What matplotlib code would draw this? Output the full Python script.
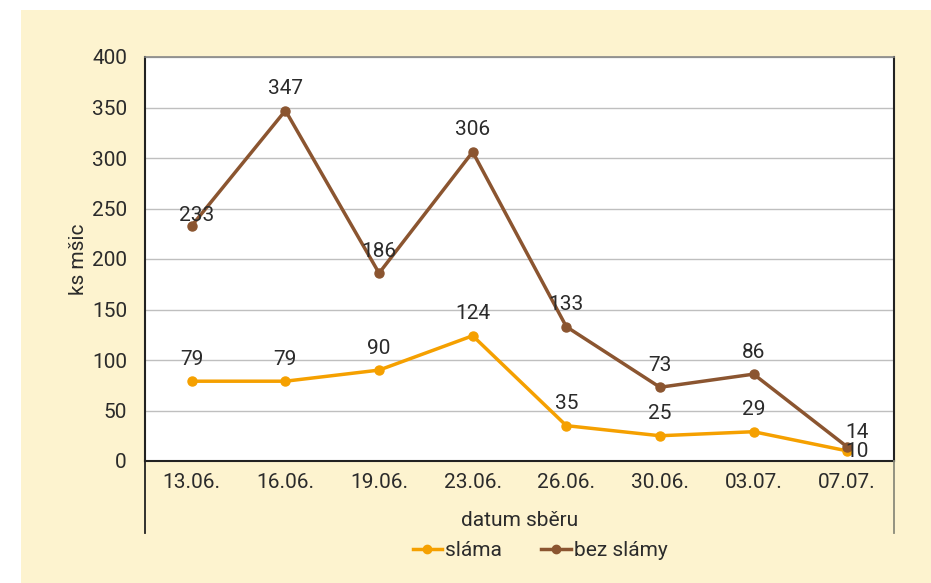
import matplotlib
matplotlib.use("Agg")
import matplotlib.pyplot as plt
from matplotlib.lines import Line2D

plt.rcParams['font.family'] = ['Roboto', 'DejaVu Sans']

categories = ["13.06.", "16.06.", "19.06.", "23.06.", "26.06.", "30.06.", "03.07.", "07.07."]
slama = [79, 79, 90, 124, 35, 25, 29, 10]
bez_slamy = [233, 347, 186, 306, 133, 73, 86, 14]
series_names = ["sláma", "bez slámy"]
y_ticks = [0, 50, 100, 150, 200, 250, 300, 350, 400]

C_SLAMA = "#F5A000"
C_BEZ = "#8B5530"
BG = "#FDF3CF"
TXT = "#2b2b2b"
FS = 15
PX = 72 / 100  # points per pixel

W, H = 931, 583
fig = plt.figure(figsize=(W / 100, H / 100), dpi=100)
fig.patch.set_facecolor("white")
fig.patches.append(plt.Rectangle((21 / W, 0), 1 - 21 / W, 1 - 10 / H, transform=fig.transFigure,
                                 facecolor=BG, edgecolor="none", zorder=-10))

L, R, T, B = 145, 894, 57, 461
ax = fig.add_axes([L / W, 1 - B / H, (R - L) / W, (B - T) / H])
ax.set_facecolor("white")

x = list(range(len(categories)))
ax.plot(x, slama, color=C_SLAMA, lw=2.5, marker="o", ms=6.5, zorder=3)
ax.plot(x, bez_slamy, color=C_BEZ, lw=2.5, marker="o", ms=6.5, zorder=4)

n = len(categories)
for i, (xi, v) in enumerate(zip(x, slama)):
    off = (0, 22) if i < n - 1 else (10, -1)
    ax.annotate(str(v), (xi, v), xytext=(off[0] * PX, off[1] * PX), textcoords="offset points",
                ha="center", va="center", fontsize=FS, color=TXT, zorder=5)
for i, (xi, v) in enumerate(zip(x, bez_slamy)):
    if i == 0:
        off = (5, 10)
    elif i == n - 1:
        off = (10, 14)
    else:
        off = (0, 22)
    ax.annotate(str(v), (xi, v), xytext=(off[0] * PX, off[1] * PX), textcoords="offset points",
                ha="center", va="center", fontsize=FS, color=TXT, zorder=5)

ax.set_xlim(-0.5, n - 0.5)
ax.set_ylim(0, 400)
ax.set_yticks(y_ticks)
ax.set_yticklabels([str(t) for t in y_ticks])
ax.set_xticks(x)
ax.set_xticklabels(categories)
ax.tick_params(axis="both", length=0, labelsize=FS, colors=TXT)
ax.tick_params(axis="y", pad=13)
ax.tick_params(axis="x", pad=9)
ax.grid(axis="y", color="#BFBFBF", lw=1)
ax.set_axisbelow(True)
for s in ["left", "bottom", "right"]:
    ax.spines[s].set_color("#222222")
    ax.spines[s].set_linewidth(1.5)
ax.spines["top"].set_color("#888888")
ax.spines["top"].set_linewidth(1.2)

# category axis extension lines
fig.add_artist(Line2D([L / W, L / W], [1 - B / H, 1 - 533 / H], transform=fig.transFigure,
                      color="#222222", lw=1.3))
fig.add_artist(Line2D([R / W, R / W], [1 - B / H, 1 - 533 / H], transform=fig.transFigure,
                      color="#8a8a7a", lw=1.3))

fig.text((L + R) / 2 / W, 1 - 521 / H, "datum sběru", ha="center", va="center",
         fontsize=FS, color=TXT)
fig.text(78 / W, 1 - 259 / H, "ks mšic", ha="center", va="center", rotation=90,
         fontsize=FS, color=TXT)

handles = [Line2D([], [], color=C_SLAMA, lw=2.5, marker="o", ms=6),
           Line2D([], [], color=C_BEZ, lw=2.5, marker="o", ms=6)]
fig.legend(handles, series_names, loc="center", bbox_to_anchor=(540 / W, 1 - 551 / H), ncol=2,
           frameon=False, fontsize=FS, handlelength=1.4, handletextpad=0.15, columnspacing=1.9,
           labelcolor=TXT)

fig.savefig("out.png", dpi=100, facecolor=fig.get_facecolor())
